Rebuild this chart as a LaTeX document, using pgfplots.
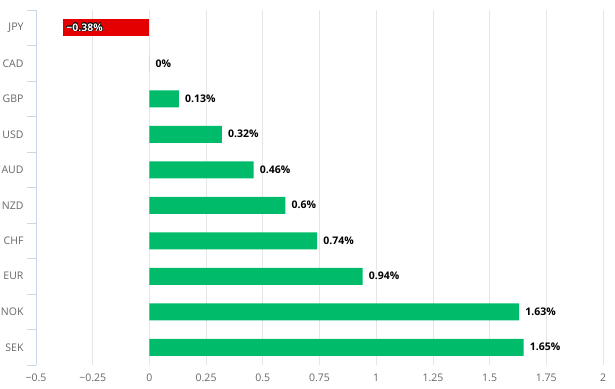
\documentclass[border=0pt]{standalone}
\usepackage{fontspec}
\setmainfont{Open Sans}
\usepackage{pgfplots}
\pgfplotsset{compat=1.18}
\usepackage{contour}
\contourlength{0.35pt}
\contournumber{16}
\definecolor{posgreen}{RGB}{0,187,106}
\definecolor{negred}{RGB}{228,0,0}
\definecolor{axblue}{RGB}{204,214,235}
\definecolor{gridg}{RGB}{230,230,230}
\definecolor{labg}{RGB}{102,102,102}
\begin{document}
\begin{tikzpicture}
\begin{axis}[
  name=ax,
  scale only axis,
  width=567pt, height=355pt,
  xmin=-0.5, xmax=2,
  ymin=-0.5, ymax=9.5,
  y dir=reverse,
  xbar, bar width=17pt, bar shift=0pt,
  /pgf/number format/assume math mode=true,
  xtick={-0.5,-0.25,0,0.25,0.5,0.75,1,1.25,1.5,1.75,2},
  xticklabels={−0.5,−0.25,0,0.25,0.5,0.75,1,1.25,1.5,1.75,2},
  xmajorgrids, major grid style={gridg, line width=0.8pt},
  ytick={0,...,9},
  yticklabels={JPY,CAD,GBP,USD,AUD,NZD,CHF,EUR,NOK,SEK},
  major tick length=0pt,
  extra y ticks={-0.5,0.5,1.5,2.5,3.5,4.5,5.5,6.5,7.5,8.5,9.5},
  extra y tick labels={},
  extra y tick style={major tick length=9pt, tick align=outside, tick style={axblue, line width=0.8pt}, grid=none},
  axis x line*=bottom,
  x axis line style={draw=none},
  axis y line*=left,
  y axis line style={axblue, line width=0.8pt, -},
  ticklabel style={font=\fontsize{10.5}{12}\selectfont, text=labg},
  yticklabel style={xshift=-9pt},
  xticklabel style={yshift=-5pt},
  clip=false,
  nodes near coords style={font=\bfseries\fontsize{10.5}{12}\selectfont, text=black, anchor=west, inner sep=0pt},
]
\addplot[fill=posgreen, draw=none, nodes near coords={\pgfmathprintnumber{\pgfplotspointmeta}\%}, nodes near coords style={xshift=6pt}]
  coordinates {(0,1) (0.13,2) (0.32,3) (0.46,4) (0.6,5) (0.74,6) (0.94,7) (1.63,8) (1.65,9)};
\addplot[fill=negred, draw=none, nodes near coords={\contour{black}{\textcolor{white}{−0.38\%}}}, nodes near coords style={anchor=west, xshift=3pt}]
  coordinates {(-0.38,0)};
\end{axis}
\pgfresetboundingbox
\path ([xshift=-36pt,yshift=-23pt]ax.south west) rectangle ([xshift=12pt,yshift=10pt]ax.north east);
\end{tikzpicture}
\end{document}
